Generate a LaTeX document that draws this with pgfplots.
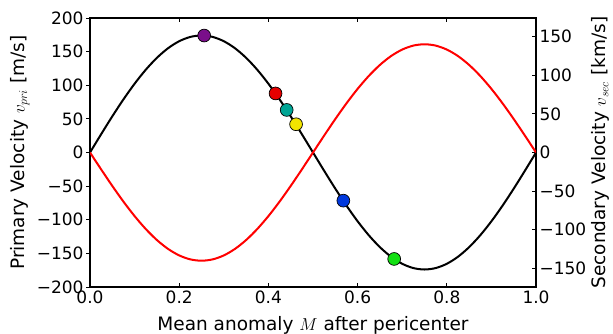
\documentclass[border=0pt]{standalone}
\usepackage{pgfplots}
\pgfplotsset{compat=1.18}
\usepackage{fontspec}
\setmainfont{DejaVu Sans}
\definecolor{dotpurple}{HTML}{7A0F8A}
\definecolor{dotred}{HTML}{E60000}
\definecolor{dotteal}{HTML}{00A595}
\definecolor{dotyellow}{HTML}{F2E400}
\definecolor{dotblue}{HTML}{0038DD}
\definecolor{dotgreen}{HTML}{12E012}
\begin{document}
\begin{tikzpicture}
\pgfplotsset{
  every axis/.append style={
    scale only axis, width=446pt, height=269pt,
    xmin=0, xmax=1,
    tick label style={font=\fontsize{17}{20}\selectfont},
    label style={font=\fontsize{18.5}{22}\selectfont},
    axis line style={line width=1.3pt},
    major tick length=4pt,
    every tick/.style={black, line width=0.9pt},
  },
  dot/.style={only marks, mark=*, mark size=6.4pt,
    mark options={fill=#1, draw=black, line width=0.7pt}},
}
\begin{axis}[
  ymin=-200, ymax=200,
  ytick={-200,-150,-100,-50,0,50,100,150,200},
  yticklabels={−200,−150,−100,−50,0,50,100,150,200},
  xtick={0,0.2,0.4,0.6,0.8,1},
  xticklabels={0.0,0.2,0.4,0.6,0.8,1.0},
  ytick pos=left, ytick align=outside,
  xtick pos=both, xticklabel pos=bottom, xtick align=inside,
  yticklabel style={xshift=1pt},
  xlabel={Mean anomaly $M$ after pericenter},
  ylabel={Primary Velocity $v_{pri}$ [m/s]},
  xlabel style={at={(axis description cs:0.5,-0.16)}, anchor=base},
  ylabel style={at={(axis description cs:-0.157,0.5)}, anchor=center},
  clip=false,
]
\addplot[black, line width=2pt, smooth] coordinates {
(0,0) (0.025,27.22) (0.05,53.77) (0.075,78.99) (0.1,102.28) (0.125,123.04)
(0.15,140.77) (0.175,155.04) (0.2,165.48) (0.225,171.86) (0.25,174)
(0.275,171.86) (0.3,165.48) (0.325,155.04) (0.35,140.77) (0.375,123.04)
(0.4,102.28) (0.425,78.99) (0.45,53.77) (0.475,27.22) (0.5,0)
(0.525,-27.22) (0.55,-53.77) (0.575,-78.99) (0.6,-102.28) (0.625,-123.04)
(0.65,-140.77) (0.675,-155.04) (0.7,-165.48) (0.725,-171.86) (0.75,-174)
(0.775,-171.86) (0.8,-165.48) (0.825,-155.04) (0.85,-140.77) (0.875,-123.04)
(0.9,-102.28) (0.925,-78.99) (0.95,-53.77) (0.975,-27.22) (1,0)
};
\addplot[dot=dotpurple] coordinates {(0.256,173.9)};
\addplot[dot=dotred] coordinates {(0.416,87.8)};
\addplot[dot=dotteal] coordinates {(0.441,63.3)};
\addplot[dot=dotyellow] coordinates {(0.462,42.0)};
\addplot[dot=dotblue] coordinates {(0.568,-71.6)};
\addplot[dot=dotgreen] coordinates {(0.682,-158.3)};
\coordinate (ll) at (rel axis cs:-0.2018,-0.1747);
\coordinate (ur) at (rel axis cs:1.1726,1.0669);
\end{axis}
\begin{axis}[
  ymin=-174, ymax=174,
  axis x line=none, axis y line*=right,
  ytick={-150,-100,-50,0,50,100,150},
  yticklabels={−150,−100,−50,0,50,100,150},
  ytick align=inside,
  ylabel={Secondary Velocity $v_{sec}$ [km/s]},
  ylabel style={at={(axis description cs:1.145,0.5)}, anchor=center},
]
\addplot[red, line width=2pt, smooth] coordinates {
(0,0) (0.025,-21.90) (0.05,-43.26) (0.075,-63.56) (0.1,-82.29) (0.125,-98.99)
(0.15,-113.26) (0.175,-124.74) (0.2,-133.15) (0.225,-138.28) (0.25,-140)
(0.275,-138.28) (0.3,-133.15) (0.325,-124.74) (0.35,-113.26) (0.375,-98.99)
(0.4,-82.29) (0.425,-63.56) (0.45,-43.26) (0.475,-21.90) (0.5,0)
(0.525,21.90) (0.55,43.26) (0.575,63.56) (0.6,82.29) (0.625,98.99)
(0.65,113.26) (0.675,124.74) (0.7,133.15) (0.725,138.28) (0.75,140)
(0.775,138.28) (0.8,133.15) (0.825,124.74) (0.85,113.26) (0.875,98.99)
(0.9,82.29) (0.925,63.56) (0.95,43.26) (0.975,21.90) (1,0)
};
\end{axis}
\pgfresetboundingbox
\path[use as bounding box] (ll) rectangle (ur);
\end{tikzpicture}
\end{document}
